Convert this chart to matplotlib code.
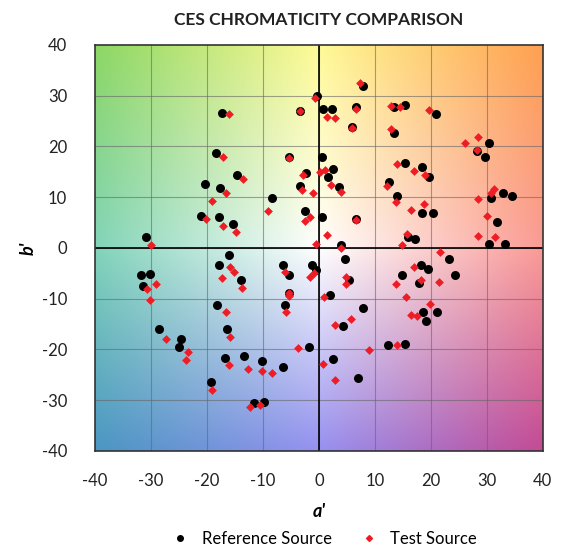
import numpy as np
import matplotlib
matplotlib.use('Agg')
import matplotlib.pyplot as plt
from matplotlib.lines import Line2D

# reference source (a', b')
ref_a = [-17.3, -18.4, -14.6, -20.4, -17.6, -21.1, -17.8, -15.4, -30.8,
         7.9, -0.4, 0.8, 2.3, -3.3, 6.7, 6.0, 13.4, 13.5, 0.5, -5.4, 2.6, -2.3, 1.7, -3.4, 3.6, -8.3, -2.5, 0.6, 6.6, 4.0,
         15.3, 20.9, 30.3, 28.3, 29.7, 15.3, 18.5, 19.7, 12.6, 13.9, 18.5, 20.3, 30.8, 32.9, 34.5, 31.8, 30.3, 33.3, 16.0, 17.2,
         -31.7, -30.2, -31.5, -28.5, -24.6, -24.9, -19.3, -16.1, -17.8, -14.0, -18.2, -16.4, -16.7, -13.3, -6.4, -5.4, -1.3,
         -0.5, -5.3, -6.0, -1.8, -10.1, -6.4, -11.6, -9.8,
         4.6, 5.4, 2.0, 7.9, 4.3, 12.3, 15.3, 2.6, 7.0, 23.3, 18.3, 19.5, 14.9, 24.3, 17.9, 18.6, 21.1, 19.1]
ref_b = [26.6, 18.7, 14.4, 12.6, 11.8, 6.3, 6.0, 4.7, 2.1,
         31.8, 30.0, 27.3, 27.3, 26.9, 27.8, 23.8, 27.7, 22.7, 18.0, 17.9, 15.6, 14.7, 14.0, 12.1, 12.0, 9.9, 7.2, 6.0, 5.7, 0.5,
         28.2, 26.4, 20.7, 19.1, 18.0, 16.8, 15.9, 14.0, 12.9, 10.2, 6.8, 6.8, 9.9, 10.8, 10.2, 5.1, 0.8, 0.8, 2.2, 1.8,
         -5.4, -5.1, -7.5, -15.9, -18.0, -19.5, -26.4, -1.4, -3.4, -6.3, -11.2, -15.9, -21.7, -21.3, -3.3, -5.3, -3.3,
         -4.3, -8.8, -11.2, -19.6, -22.3, -23.5, -30.5, -30.3,
         -2.1, -6.3, -9.3, -11.8, -15.4, -19.2, -18.9, -21.9, -25.6, -2.1, -3.3, -4.2, -5.4, -5.4, -7.0, -12.6, -12.6, -14.4]

# test source (a', b')
test_a = [-16.1, -17.2, -13.5, -16.6, -19.1, -20.2, -17.2, -14.8, -29.9,
          7.3, -0.7, 1.4, 2.8, -3.3, 6.6, 6.0, 12.8, 12.8, -5.4, 1.1, -2.8, 0.2, -3.1, -1.0, 2.2, 4.0, -9.1, -1.5, -2.5, 6.6, 1.4, -0.5,
          14.5, 19.6, 28.5, 26.1, 28.3, 13.9, 17.0, 18.9, 12.2, 13.7, 16.4, 18.8, 31.3, 30.8, 28.5, 30.1, 28.5, 31.4, 15.8, 14.9,
          -30.7, -29.1, -30.2, -27.3, -23.4, -23.8, -19.1, -15.8, -15.2, -17.3, -13.7, -16.6, -15.8, -16.1, -6.0, -0.8, -1.6,
          -5.3, -5.4, -5.8, -3.7, -12.6, -10.2, -8.4, -12.3, -10.5,
          4.0, 4.8, 4.8, 0.9, 5.8, 2.8, 9.0, 14.0, 0.8, 2.8, 21.7, 17.0, 18.2, 21.4, 13.7, 15.5, 19.9, 16.5, 17.6]
test_b = [26.3, 17.9, 13.5, 10.8, 9.3, 5.7, 4.4, 3.2, 0.6,
          32.5, 29.5, 25.7, 25.5, 26.9, 27.3, 23.6, 28.0, 23.4, 17.8, 15.4, 14.4, 14.9, 11.4, 10.8, 12.3, 11.0, 7.2, 6.0, 5.4, 5.5, 2.6, 0.8,
          27.8, 27.1, 21.9, 20.7, 19.3, 16.6, 15.2, 14.4, 12.1, 9.0, 7.5, 8.7, 11.6, 10.8, 9.6, 6.3, 2.4, 2.1, 2.8, 0.5,
          -8.1, -7.2, -10.2, -18.0, -20.5, -22.1, -28.0, -3.7, -4.7, -5.9, -7.9, -12.6, -17.5, -23.1, -4.7, -4.9, -5.8,
          -8.8, -9.5, -12.6, -19.8, -23.8, -24.3, -24.7, -31.3, -30.9,
          -0.1, -5.8, -7.1, -9.7, -14.0, -15.1, -20.2, -19.2, -22.9, -26.1, -0.9, -3.7, -6.3, -6.8, -7.2, -9.6, -11.1, -13.3, -13.5]

ticks = [-40, -30, -20, -10, 0, 10, 20, 30, 40]

# background colours: rows top->bottom, cols left->right
bg = np.array([
    [[140, 215, 100], [255, 250, 150], [255, 160, 80]],
    [[130, 212, 185], [255, 255, 255], [250, 155, 150]],
    [[75, 150, 195], [150, 145, 240], [195, 75, 150]],
]) / 255.0

n = 200
t = np.linspace(0, 2, n)
i0 = np.clip(np.floor(t).astype(int), 0, 1)
f = t - i0
img = np.zeros((n, n, 3))
for r in range(n):
    for c in range(n):
        a0, fa = i0[r], f[r]
        b0, fb = i0[c], f[c]
        top = bg[a0, b0] * (1 - fb) + bg[a0, b0 + 1] * fb
        bot = bg[a0 + 1, b0] * (1 - fb) + bg[a0 + 1, b0 + 1] * fb
        img[r, c] = top * (1 - fa) + bot * fa

plt.rcParams['font.family'] = ['Lato', 'DejaVu Sans']
plt.rcParams['axes.unicode_minus'] = False
fig = plt.figure(figsize=(5.72, 5.54), dpi=100)
ax = fig.add_axes([0.166, 0.186, 0.783, 0.733])
ax.imshow(img, extent=[-40, 40, -40, 40], aspect='auto', zorder=0, interpolation='bilinear')

for v in ticks[1:-1]:
    ax.axvline(v, color='#666666', lw=0.8, alpha=0.6, zorder=1)
    ax.axhline(v, color='#666666', lw=0.8, alpha=0.6, zorder=1)
ax.axvline(0, color='black', lw=1.2, zorder=2)
ax.axhline(0, color='black', lw=1.2, zorder=2)

ax.scatter(ref_a, ref_b, s=42, c='black', marker='o', zorder=3, linewidths=0)
ax.scatter(test_a, test_b, s=20, c='#ee1c25', marker='D', zorder=4, linewidths=0)

ax.set_xlim(-40, 40)
ax.set_ylim(-40, 40)
ax.set_xticks(ticks)
ax.set_yticks(ticks)
ax.tick_params(length=0, labelsize=12, colors='#222222')
ax.tick_params(axis='x', pad=16)
ax.tick_params(axis='y', pad=20)
for s in ax.spines.values():
    s.set_color('#333333')
    s.set_linewidth(1.2)

ax.set_title('CES CHROMATICITY COMPARISON', fontsize=12.5, fontweight='bold', pad=14, color='#222222')
ax.set_xlabel("a'", fontsize=13, fontweight='bold', style='italic', labelpad=10)
ax.set_ylabel("b'", fontsize=13, fontweight='bold', style='italic', labelpad=4)

handles = [Line2D([], [], marker='o', color='black', ls='', ms=4),
           Line2D([], [], marker='D', color='#ee1c25', ls='', ms=3)]
fig.legend(handles, ['Reference Source', 'Test Source'], loc='center', bbox_to_anchor=(0.56, 0.027),
           ncol=2, frameon=False, fontsize=12, handletextpad=0.3, columnspacing=1.2)

fig.savefig('out.png', dpi=100)
